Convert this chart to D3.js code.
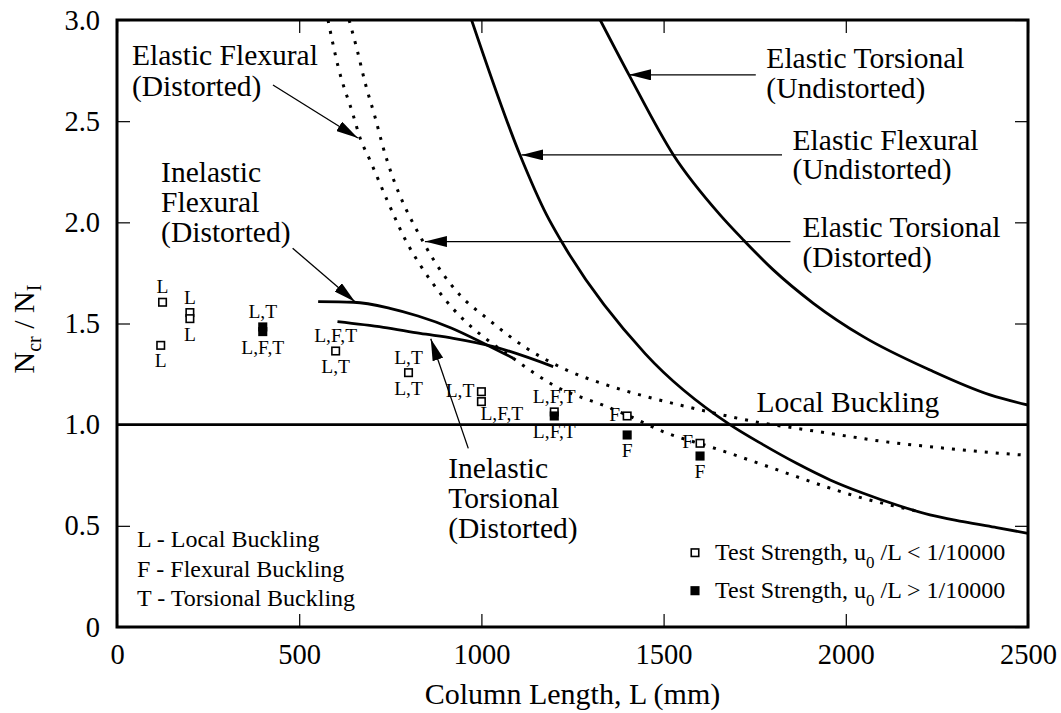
<!DOCTYPE html>
<html><head><meta charset="utf-8">
<script src="https://cdn.jsdelivr.net/npm/d3@7"></script>
<style>
body{margin:0;background:#fff;}
svg text{font-family:"Liberation Serif","Times New Roman",serif;fill:#000;}
</style></head><body>
<svg id="chart" width="1061" height="713"></svg>
<script>
// ---------------- data ----------------
const xTicks = [0, 500, 1000, 1500, 2000, 2500];
const yTicks = [0, 0.5, 1.0, 1.5, 2.0, 2.5, 3.0];

// Elastic Torsional (Undistorted) - solid
const etuL = [1326, 1405, 1527, 1655, 1719, 1801, 1911, 2048, 2231, 2396, 2500];
const etuN = [3.0, 2.729, 2.333, 2.037, 1.913, 1.765, 1.600, 1.435, 1.270, 1.147, 1.097];

// Elastic Flexural (Undistorted) - solid
const efuL = [973, 1106, 1179, 1220, 1450, 1682, 1774, 1865, 1957, 2048, 2140, 2231, 2322, 2414, 2500];
const efuN = [3.0, 2.333, 2.037, 1.905, 1.35, 1.0, 0.900, 0.809, 0.727, 0.661, 0.603, 0.554, 0.521, 0.491, 0.463];

// Elastic Flexural (Distorted) - dotted
const efdL = [579, 607, 648, 667, 694, 741, 796, 832, 895, 1106, 1197, 1344, 1399, 1509, 1627, 1774, 1865, 1957, 2048, 2121, 2195];
const efdN = [3.0, 2.768, 2.531, 2.417, 2.308, 2.111, 1.898, 1.789, 1.631, 1.304, 1.196, 1.089, 1.048, 0.958, 0.891, 0.801, 0.743, 0.686, 0.636, 0.603, 0.573];

// Elastic Torsional (Distorted) - dotted
const etdL = [637, 659, 681, 708, 730, 845, 878, 941, 1015, 1124, 1234, 1344, 1454, 1563, 1682, 1774, 1865, 1984, 2094, 2231, 2368, 2500];
const etdN = [3.0, 2.852, 2.689, 2.521, 2.373, 1.888, 1.789, 1.641, 1.526, 1.378, 1.270, 1.196, 1.138, 1.089, 1.040, 1.007, 0.982, 0.949, 0.919, 0.891, 0.867, 0.848];

// Inelastic Flexural (Distorted) - solid
const ifdL = [552, 649, 749, 826, 917, 1015, 1088];
const ifdN = [1.608, 1.605, 1.575, 1.537, 1.478, 1.394, 1.328];

// Inelastic Torsional (Distorted) - solid
const itdL = [605, 731, 832, 923, 1033, 1197];
const itdN = [1.509, 1.481, 1.451, 1.427, 1.386, 1.287];

// Local buckling level
const localBucklingN = 1.0;

// Test strengths, u0/L < 1/10000 (open squares)
const openL = [125, 200, 200, 120, 600, 800, 1000, 1000, 1200, 1400, 1600];
const openN = [1.605, 1.554, 1.524, 1.392, 1.364, 1.257, 1.163, 1.114, 1.063, 1.043, 0.908];
// Test strengths, u0/L > 1/10000 (filled squares)
const filledL = [400, 400, 1200, 1400, 1600];
const filledN = [1.483, 1.460, 1.043, 0.949, 0.845];

// Failure-mode labels next to the test points
const modeText = ["L","L","L","L","L,T","L,F,T","L,F,T","L,T","L,T","L,T","L,T","L,F,T","L,F,T","L,F,T","F","F","F","F"];
const modeL = [125,200,200,120,400,400,600,600,800,800,1000,1000,1200,1200,1400,1400,1600,1600];
const modeN = [1.605,1.554,1.524,1.392,1.483,1.460,1.364,1.364,1.257,1.257,1.163,1.114,1.063,1.043,1.043,0.949,0.908,0.845];
const modeSide = ["above","above","below","below","above","below","above","below","above","below","left","belowright","above","below","left","below","left","below"];

// ---------------- layout ----------------
const svg = d3.select("#chart");
const x = d3.scaleLinear().domain([0, 2500]).range([117, 1028]);
const y = d3.scaleLinear().domain([0, 3]).range([627, 20]);
const FONT = '"Liberation Serif","Times New Roman",serif';

const defs = svg.append("defs");
defs.append("clipPath").attr("id","clip").append("rect")
  .attr("x", x(0)).attr("y", y(3)).attr("width", x(2500)-x(0)).attr("height", y(0)-y(3));
defs.append("marker").attr("id","ah").attr("viewBox","0 0 22 11")
  .attr("refX",22).attr("refY",5.5).attr("markerWidth",22).attr("markerHeight",11)
  .attr("markerUnits","userSpaceOnUse").attr("orient","auto")
  .append("path").attr("d","M0,0 L22,5.5 L0,11 Z").attr("fill","#000");

// axes (inward ticks on all four sides)
function styleAxis(g){
  g.select(".domain").remove();
  g.selectAll(".tick line").attr("stroke","#000").attr("stroke-width",1.2);
  g.attr("font-family", FONT).attr("font-size", 28.5);
  g.selectAll(".tick text").attr("fill","#000");
}
svg.append("g").attr("transform",`translate(0,${y(0)})`)
  .call(d3.axisBottom(x).tickValues(xTicks).tickSize(-13).tickPadding(17).tickFormat(d3.format("d")))
  .call(styleAxis);
svg.append("g").attr("transform",`translate(0,${y(3)})`)
  .call(d3.axisTop(x).tickValues(xTicks).tickSize(-13).tickFormat(""))
  .call(styleAxis);
svg.append("g").attr("transform",`translate(${x(0)},0)`)
  .call(d3.axisLeft(y).tickValues(yTicks).tickSize(-13).tickPadding(17).tickFormat(d => d === 0 ? "0" : d.toFixed(1)))
  .call(styleAxis);
svg.append("g").attr("transform",`translate(${x(2500)},0)`)
  .call(d3.axisRight(y).tickValues(yTicks).tickSize(-13).tickFormat(""))
  .call(styleAxis);

// curves
const plot = svg.append("g").attr("clip-path","url(#clip)");
const line = d3.line().x(d => x(d[0])).y(d => y(d[1])).curve(d3.curveMonotoneX);
const zip = (a, b) => a.map((v, i) => [v, b[i]]);
const curves = [
  {L: etuL, N: etuN, dotted: false},
  {L: efuL, N: efuN, dotted: false},
  {L: efdL, N: efdN, dotted: true},
  {L: etdL, N: etdN, dotted: true},
  {L: ifdL, N: ifdN, dotted: false},
  {L: itdL, N: itdN, dotted: false}
];
curves.forEach(c => {
  plot.append("path").datum(zip(c.L, c.N)).attr("d", line)
    .attr("fill","none").attr("stroke","#000")
    .attr("stroke-width", c.dotted ? 3 : 2.8)
    .attr("stroke-dasharray", c.dotted ? "3,8" : null);
});
plot.append("line").attr("x1", x(0)).attr("x2", x(2500))
  .attr("y1", y(localBucklingN)).attr("y2", y(localBucklingN))
  .attr("stroke","#000").attr("stroke-width",2.8);

// test points
const SQ = 7.5;
svg.append("g").selectAll("rect").data(zip(openL, openN)).join("rect")
  .attr("x", d => x(d[0]) - SQ/2).attr("y", d => y(d[1]) - SQ/2)
  .attr("width", SQ).attr("height", SQ)
  .attr("fill","#fff").attr("stroke","#000").attr("stroke-width",1.6);
svg.append("g").selectAll("rect").data(zip(filledL, filledN)).join("rect")
  .attr("x", d => x(d[0]) - SQ/2).attr("y", d => y(d[1]) - SQ/2)
  .attr("width", SQ).attr("height", SQ)
  .attr("fill","#000").attr("stroke","#000").attr("stroke-width",1.6);

// mode labels
const sideOffset = {
  above: {dx: 0, dy: -9, anchor: "middle"},
  below: {dx: 0, dy: 22, anchor: "middle"},
  left: {dx: -7, dy: 5, anchor: "end"},
  belowright: {dx: -1, dy: 18, anchor: "start"}
};
svg.append("g").selectAll("text").data(modeText.map((t, i) => ({t, L: modeL[i], N: modeN[i], s: sideOffset[modeSide[i]]})))
  .join("text")
  .attr("x", d => x(d.L) + d.s.dx).attr("y", d => y(d.N) + d.s.dy)
  .attr("text-anchor", d => d.s.anchor).attr("font-size", 19.5)
  .text(d => d.t);

// annotation arrows (anchored in data units)
const arrows = [
  {from: [428, 2.679], to: [661, 2.417]},
  {from: [482, 1.872], to: [653, 1.608]},
  {from: [964, 0.883], to: [861, 1.425]},
  {from: [1753, 2.729], to: [1405, 2.729]},
  {from: [1825, 2.333], to: [1110, 2.333]},
  {from: [1848, 1.905], to: [845, 1.905]}
];
svg.append("g").selectAll("line").data(arrows).join("line")
  .attr("x1", d => x(d.from[0])).attr("y1", d => y(d.from[1]))
  .attr("x2", d => x(d.to[0])).attr("y2", d => y(d.to[1]))
  .attr("stroke","#000").attr("stroke-width",1.3).attr("marker-end","url(#ah)");

// annotation texts
const notes = [
  {lines: ["Elastic Flexural", "(Distorted)"], at: [41, 2.778], lh: 31.5},
  {lines: ["Inelastic", "Flexural", "(Distorted)"], at: [121, 2.201], lh: 30},
  {lines: ["Elastic Torsional", "(Undistorted)"], at: [1782, 2.762], lh: 29.5},
  {lines: ["Elastic Flexural", "(Undistorted)"], at: [1854, 2.358], lh: 29.5},
  {lines: ["Elastic Torsional", "(Distorted)"], at: [1881, 1.926], lh: 29.5},
  {lines: ["Inelastic", "Torsional", "(Distorted)"], at: [909, 0.735], lh: 30},
  {lines: ["Local Buckling"], at: [1755, 1.064], lh: 30}
];
notes.forEach(n => {
  const t = svg.append("text").attr("font-size", 29.5)
    .attr("x", x(n.at[0])).attr("y", y(n.at[1]));
  n.lines.forEach((s, i) => {
    t.append("tspan").attr("x", x(n.at[0])).attr("dy", i === 0 ? 0 : n.lh).text(s);
  });
});

// mode key (bottom-left)
const modeKey = ["L - Local Buckling", "F - Flexural Buckling", "T - Torsional Buckling"];
const mk = svg.append("text").attr("font-size", 24).attr("x", 137).attr("y", 547);
modeKey.forEach((s, i) => mk.append("tspan").attr("x", 137).attr("dy", i === 0 ? 0 : 29.6).text(s));

// symbol legend (bottom-right)
const legendItems = [{filled: false, rel: "<"}, {filled: true, rel: ">"}];
legendItems.forEach((it, i) => {
  const cy = 552.7 + i * 38;
  svg.append("rect").attr("x", 695 - SQ/2).attr("y", cy - SQ/2).attr("width", SQ).attr("height", SQ)
    .attr("fill", it.filled ? "#000" : "#fff").attr("stroke","#000").attr("stroke-width",1.6);
  const t = svg.append("text").attr("font-size", 24).attr("x", 715).attr("y", cy + 7.5)
    .attr("style","white-space:pre");
  t.append("tspan").text("Test Strength, u");
  t.append("tspan").attr("font-size", 17).attr("dy", 8).text("0");
  t.append("tspan").attr("dy", -8).text(" /L " + it.rel + " 1/10000");
});

// axis titles
svg.append("text").attr("font-size", 30).attr("text-anchor","middle")
  .attr("x", (x(0) + x(2500)) / 2).attr("y", 704).text("Column Length, L (mm)");
const yt = svg.append("text").attr("font-size", 30).attr("text-anchor","middle")
  .attr("style","white-space:pre")
  .attr("transform", "translate(34,329) rotate(-90)");
yt.append("tspan").text("N");
yt.append("tspan").attr("font-size", 20).attr("dy", 7).text("cr");
yt.append("tspan").attr("dy", -7).text(" / N");
yt.append("tspan").attr("font-size", 20).attr("dy", 7).text("I");

// frame
svg.append("rect").attr("x", x(0)).attr("y", y(3)).attr("width", x(2500) - x(0)).attr("height", y(0) - y(3))
  .attr("fill","none").attr("stroke","#000").attr("stroke-width",3);
</script>
</body></html>
